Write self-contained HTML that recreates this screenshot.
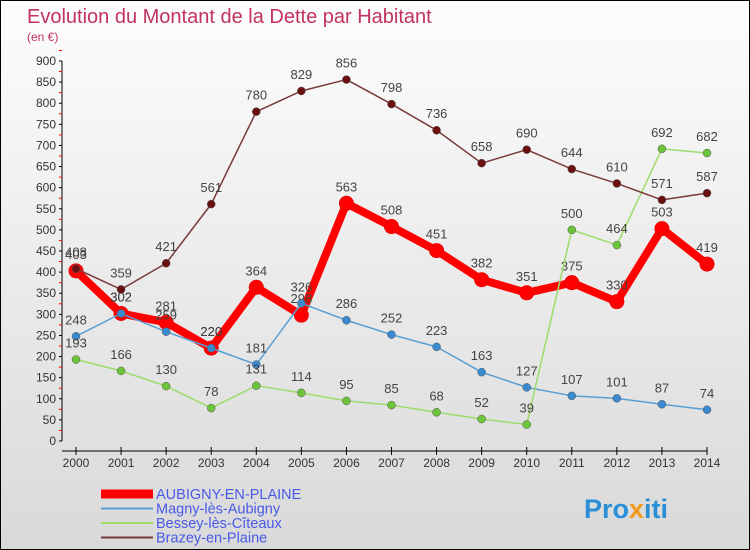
<!DOCTYPE html>
<html><head><meta charset="utf-8"><style>
body{margin:0}
#c{width:748px;height:548px;border:1px solid #000;background:linear-gradient(#fdfdfd,#d9d9d9);position:relative;font-family:"Liberation Sans",sans-serif;overflow:hidden}
svg text{font-family:"Liberation Sans",sans-serif}
</style></head><body>
<div id="c">
<svg id="s" width="748" height="548">
<text x="26" y="22" font-size="20" fill="#c2325c">Evolution du Montant de la Dette par Habitant</text>
<text x="26" y="40" font-size="12" fill="#c2325c">(en €)</text>
<g id="axes"></g><g id="series"></g><g id="legend"></g>
<text x="583" y="517" font-size="27" font-weight="bold" fill="#2a8fd6">Pro<tspan fill="#f39a1c">x</tspan>iti</text>
</svg></div>
<script>
const years=[2000,2001,2002,2003,2004,2005,2006,2007,2008,2009,2010,2011,2012,2013,2014];
const aubigny=[403,302,281,220,364,298,563,508,451,382,351,375,330,503,419];
const magny=[248,302,259,220,181,326,286,252,223,163,127,107,101,87,74];
const bessey=[193,166,130,78,131,114,95,85,68,52,39,500,464,692,682];
const brazey=[408,359,421,561,780,829,856,798,736,658,690,644,610,571,587];
const yTicks=[0,50,100,150,200,250,300,350,400,450,500,550,600,650,700,750,800,850,900];
const seriesNames=["AUBIGNY-EN-PLAINE","Magny-lès-Aubigny","Bessey-lès-Cîteaux","Brazey-en-Plaine"];
const NS="http://www.w3.org/2000/svg";
const X=i=>75+i*(706-75)/(years.length-1);
const Y=v=>440-v*380/900;
function mk(p,t,a){const e=document.createElementNS(NS,t);for(const k in a)e.setAttribute(k,a[k]);p.appendChild(e);return e;}
const ax=document.getElementById('axes');
let l=mk(ax,'line',{x1:61,y1:60,x2:61,y2:440,stroke:'#000'});


l=mk(ax,'line',{x1:61,y1:450,x2:706,y2:450,stroke:'#000'});


yTicks.forEach(v=>{
 mk(ax,'line',{x1:58,y1:Y(v),x2:61,y2:Y(v),stroke:'#000'});
 mk(ax,'line',{x1:58,y1:Y(v+25),x2:61,y2:Y(v+25),stroke:'#f00'});
 const t=mk(ax,'text',{x:55,y:Y(v)+4,'font-size':12,'text-anchor':'end',fill:'#333'});
 t.textContent=v;
 
 
});
years.forEach((y,i)=>{
 mk(ax,'line',{x1:X(i),y1:446,x2:X(i),y2:454,stroke:'#000'});
 const t=mk(ax,'text',{x:X(i),y:466,'font-size':12,'text-anchor':'middle',fill:'#333'});
 t.textContent=y;
 
 
});
const sg=document.getElementById('series');
const defs=[[aubigny,'#f00',8,7,'#f00'],[magny,'#5a9fd4',1.5,4,'#3a8ad0'],[bessey,'#9ddb6a',1.5,4,'#6cc43a'],[brazey,'#7a3a3a',1.5,4,'#6a1010']];
defs.forEach((d,k)=>{
 const g=mk(sg,'g',{});
 
 
 const pl=mk(g,'polyline',{points:d[0].map((v,i)=>X(i)+','+Y(v)).join(' '),fill:'none',stroke:d[1],'stroke-width':d[2],'stroke-linejoin':'round'});
 
 
 d[0].forEach((v,i)=>{
  const c=mk(g,'circle',{cx:X(i),cy:Y(v),r:d[3],fill:d[4],stroke:k?'#555':'#e00','stroke-width':k?0.5:1});
  
  
  const t=mk(g,'text',{x:X(i),y:Y(v)-12,'font-size':13,'text-anchor':'middle',fill:'#444'});
  t.textContent=v;
  
  
 });
});
const lg=document.getElementById('legend');
defs.forEach((d,k)=>{
 const y=493+k*14.5;
 const g=mk(lg,'g',{});
 
 
 mk(g,'line',{x1:100,y1:y,x2:152,y2:y,stroke:d[1],'stroke-width':k?2:9});
 const t=mk(g,'text',{x:155,y:y+5,'font-size':14.5,fill:'#4a5ae8'});
 t.textContent=seriesNames[k];
});
</script>
</body></html>
